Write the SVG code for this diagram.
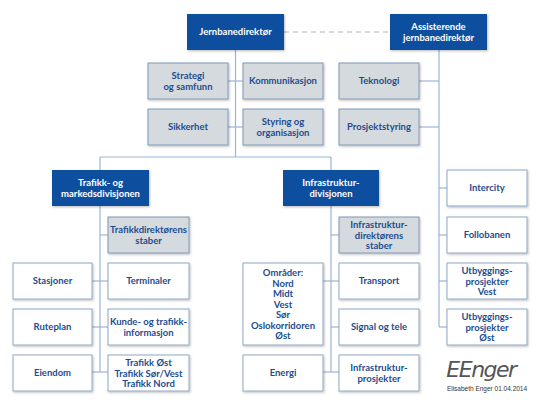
<svg xmlns="http://www.w3.org/2000/svg" width="542" height="400" viewBox="0 0 542 400">
<defs>
<filter id="sh" x="-10%" y="-10%" width="125%" height="130%">
<feDropShadow dx="1" dy="1.2" stdDeviation="0.8" flood-color="#000" flood-opacity="0.25"/>
</filter>
</defs>
<style>
.b{fill:#0a4f9e;filter:url(#sh)}
.g{fill:#d5dadf;stroke:#7e98b8;stroke-width:1;filter:url(#sh)}
.w{fill:#fff;stroke:#8ea7c6;stroke-width:1;filter:url(#sh)}
text{font-family:Lato,"Liberation Sans",sans-serif;font-weight:bold;font-size:9.5px;text-anchor:middle}
.tw{fill:#fff}
.td{fill:#1e4d8f}
.c line{stroke:#9bb5d6;stroke-width:1.2}
.c line.d{stroke:#a9b4c0;stroke-dasharray:5,4}
</style>
<rect width="542" height="400" fill="#fff"/>
<g class="c" id="connectors">
<line class="d" x1="284" y1="32" x2="390" y2="32"/>
<line x1="235.5" y1="50" x2="235.5" y2="157"/>
<line x1="228" y1="81" x2="243" y2="81"/>
<line x1="228" y1="127" x2="243" y2="127"/>
<line x1="100" y1="157" x2="331" y2="157"/>
<line x1="100" y1="157" x2="100" y2="170"/>
<line x1="331" y1="157" x2="331" y2="170"/>
<line x1="439" y1="50" x2="439" y2="327"/>
<line x1="419" y1="81" x2="439" y2="81"/>
<line x1="419" y1="127" x2="439" y2="127"/>
<line x1="439" y1="188" x2="447" y2="188"/>
<line x1="439" y1="235" x2="447" y2="235"/>
<line x1="439" y1="281" x2="447" y2="281"/>
<line x1="439" y1="327" x2="447" y2="327"/>
<line x1="100" y1="206" x2="100" y2="372"/>
<line x1="100" y1="235" x2="108" y2="235"/>
<line x1="92" y1="281" x2="108" y2="281"/>
<line x1="92" y1="327" x2="108" y2="327"/>
<line x1="92" y1="372" x2="108" y2="372"/>
<line x1="331" y1="206" x2="331" y2="372"/>
<line x1="331" y1="235" x2="339" y2="235"/>
<line x1="323" y1="281" x2="339" y2="281"/>
<line x1="331" y1="327" x2="339" y2="327"/>
<line x1="323" y1="372" x2="339" y2="372"/>
</g>
<g id="jernbanedirektor"><rect class="b" x="187" y="14" width="97" height="36"/><text class="tw" x="235.5" y="35">Jernbanedirektør</text></g>
<g id="assisterende"><rect class="b" x="390" y="14" width="97" height="36"/><text class="tw" x="438.5" y="30">Assisterende</text><text class="tw" x="438.5" y="40.5">jernbanedirektør</text></g>
<g id="strategi"><rect class="g" x="148" y="63" width="80" height="36"/><text class="td" x="188" y="79">Strategi</text><text class="td" x="188" y="89.5">og samfunn</text></g>
<g id="kommunikasjon"><rect class="g" x="243" y="63" width="80" height="36"/><text class="td" x="283" y="84">Kommunikasjon</text></g>
<g id="teknologi"><rect class="g" x="339" y="63" width="80" height="36"/><text class="td" x="379" y="84">Teknologi</text></g>
<g id="sikkerhet"><rect class="g" x="148" y="109" width="80" height="36"/><text class="td" x="188" y="130">Sikkerhet</text></g>
<g id="styring"><rect class="g" x="243" y="109" width="80" height="36"/><text class="td" x="283" y="125">Styring og</text><text class="td" x="283" y="135.5">organisasjon</text></g>
<g id="prosjektstyring"><rect class="g" x="339" y="109" width="80" height="36"/><text class="td" x="379" y="130">Prosjektstyring</text></g>
<g id="trafikkdiv"><rect class="b" x="52" y="170" width="97" height="36"/><text class="tw" x="100.5" y="186">Trafikk- og</text><text class="tw" x="100.5" y="196.5">markedsdivisjonen</text></g>
<g id="infradiv"><rect class="b" x="283" y="170" width="96" height="36"/><text class="tw" x="331" y="186">Infrastruktur-</text><text class="tw" x="331" y="196.5">divisjonen</text></g>
<g id="trafikkstaber"><rect class="g" x="108" y="217" width="81" height="36"/><text class="td" x="148.5" y="233">Trafikkdirektørens</text><text class="td" x="148.5" y="243.5">staber</text></g>
<g id="stasjoner"><rect class="w" x="13" y="263" width="79" height="36"/><text class="td" x="52.5" y="284">Stasjoner</text></g>
<g id="terminaler"><rect class="w" x="108" y="263" width="81" height="36"/><text class="td" x="148.5" y="284">Terminaler</text></g>
<g id="ruteplan"><rect class="w" x="13" y="309" width="79" height="36"/><text class="td" x="52.5" y="330">Ruteplan</text></g>
<g id="kunde"><rect class="w" x="108" y="309" width="81" height="36"/><text class="td" x="148.5" y="325">Kunde- og trafikk-</text><text class="td" x="148.5" y="335.5">informasjon</text></g>
<g id="eiendom"><rect class="w" x="13" y="355" width="79" height="36"/><text class="td" x="52.5" y="376">Eiendom</text></g>
<g id="trafikkregioner"><rect class="w" x="108" y="355" width="81" height="36"/><text class="td" x="148.5" y="366">Trafikk Øst</text><text class="td" x="148.5" y="376.5">Trafikk Sør/Vest</text><text class="td" x="148.5" y="387">Trafikk Nord</text></g>
<g id="infrastaber"><rect class="g" x="339" y="217" width="80" height="36"/><text class="td" x="379" y="228">Infrastruktur-</text><text class="td" x="379" y="238.5">direktørens</text><text class="td" x="379" y="249">staber</text></g>
<g id="omrader"><rect class="w" x="243" y="263" width="80" height="82"/><text class="td" x="283" y="276">Områder:</text><text class="td" x="283" y="286.5">Nord</text><text class="td" x="283" y="297">Midt</text><text class="td" x="283" y="307.5">Vest</text><text class="td" x="283" y="318">Sør</text><text class="td" x="283" y="328.5">Oslokorridoren</text><text class="td" x="283" y="339">Øst</text></g>
<g id="transport"><rect class="w" x="339" y="263" width="80" height="36"/><text class="td" x="379" y="284">Transport</text></g>
<g id="signal"><rect class="w" x="339" y="309" width="80" height="36"/><text class="td" x="379" y="330">Signal og tele</text></g>
<g id="energi"><rect class="w" x="243" y="355" width="80" height="36"/><text class="td" x="283" y="376">Energi</text></g>
<g id="infraprosjekter"><rect class="w" x="339" y="355" width="80" height="36"/><text class="td" x="379" y="371">Infrastruktur-</text><text class="td" x="379" y="381.5">prosjekter</text></g>
<g id="intercity"><rect class="w" x="447" y="170" width="80" height="36"/><text class="td" x="487" y="191">Intercity</text></g>
<g id="follobanen"><rect class="w" x="447" y="217" width="80" height="36"/><text class="td" x="487" y="238">Follobanen</text></g>
<g id="utbvest"><rect class="w" x="447" y="263" width="80" height="36"/><text class="td" x="487" y="274">Utbyggings-</text><text class="td" x="487" y="284.5">prosjekter</text><text class="td" x="487" y="295">Vest</text></g>
<g id="utbost"><rect class="w" x="447" y="309" width="80" height="36"/><text class="td" x="487" y="320">Utbyggings-</text><text class="td" x="487" y="330.5">prosjekter</text><text class="td" x="487" y="341">Øst</text></g>
<g id="signatur">
<text x="481" y="377" style="font-family:'DejaVu Sans',sans-serif;font-weight:200;font-style:italic;font-size:22px;fill:#555;letter-spacing:-1.5px">EEnger</text>
<text x="487" y="391" style="font-family:'Liberation Sans',sans-serif;font-weight:normal;font-size:6.5px;fill:#333">Elisabeth Enger 01.04.2014</text>
</g>
</svg>
